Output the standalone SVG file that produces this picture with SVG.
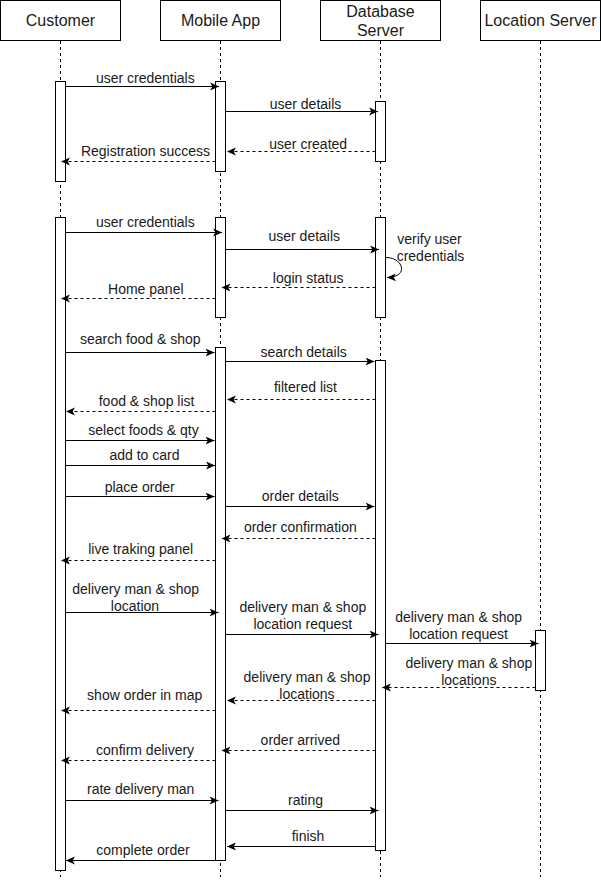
<svg xmlns="http://www.w3.org/2000/svg" width="601" height="881" viewBox="0 0 601 881">
<style>
.box{fill:#fff;stroke:#000;stroke-width:1}
.life{stroke:#000;stroke-width:1;stroke-dasharray:3,3;fill:none}
.act{fill:#fff;stroke:#000;stroke-width:1}
.hdr{font-family:"Liberation Sans",Arial,Helvetica,sans-serif;font-size:16px;fill:#1a1a1a;text-anchor:middle}
.lbl{font-family:"Liberation Sans",Arial,Helvetica,sans-serif;font-size:14px;fill:#1a1a1a;text-anchor:middle}
.msg{stroke:#000;stroke-width:1;fill:none;marker-end:url(#arr)}
.ret{stroke:#000;stroke-width:1;fill:none;stroke-dasharray:3,3;marker-end:url(#arr)}
</style>
<defs>
<marker id="arr" markerUnits="userSpaceOnUse" markerWidth="10" markerHeight="10" viewBox="0 0 9 8" refX="8" refY="4" orient="auto">
<path d="M0,0.5 L8,4 L0,7.5 L2,4 Z" fill="#000"/>
</marker>
</defs>
<rect width="601" height="881" fill="#fff"/>
<g id="customer">
<rect class="box" x="0.5" y="0.5" width="120" height="40"/>
<text class="hdr" x="60.5" y="26">Customer</text>
<line class="life" x1="60.5" y1="41" x2="60.5" y2="877"/>
<rect class="act" x="55.5" y="81.5" width="10" height="100"/>
<rect class="act" x="55.5" y="217.5" width="10" height="653"/>
</g>
<g id="mobile">
<rect class="box" x="160.5" y="0.5" width="120" height="40"/>
<text class="hdr" x="220.5" y="26">Mobile App</text>
<line class="life" x1="220.5" y1="41" x2="220.5" y2="877"/>
<rect class="act" x="215.5" y="81.5" width="10" height="90"/>
<rect class="act" x="215.5" y="217.5" width="10" height="100"/>
<rect class="act" x="215.5" y="347.5" width="10" height="513"/>
</g>
<g id="database">
<rect class="box" x="320.5" y="0.5" width="120" height="40"/>
<text class="hdr" x="380.5" y="17">Database</text>
<text class="hdr" x="380.5" y="36">Server</text>
<line class="life" x1="380.5" y1="41" x2="380.5" y2="877"/>
<rect class="act" x="375.5" y="101.5" width="10" height="60"/>
<rect class="act" x="375.5" y="217.5" width="10" height="100"/>
<rect class="act" x="375.5" y="360.5" width="10" height="490"/>
</g>
<g id="location">
<rect class="box" x="480.5" y="0.5" width="120" height="40"/>
<text class="hdr" x="540.5" y="26">Location Server</text>
<line class="life" x1="540.5" y1="41" x2="540.5" y2="877"/>
<rect class="act" x="535.5" y="630.5" width="10" height="60"/>
</g>
<g id="connectors">
<path class="msg" d="M65.5,86.5 H219"/>
<path class="msg" d="M225.5,111.5 H378"/>
<path class="ret" d="M375.5,151.5 H227"/>
<path class="ret" d="M215.5,161.5 H61"/>
<path class="msg" d="M65.5,232.5 H222"/>
<path class="msg" d="M225.5,249.5 H379"/>
<path class="msg" d="M385.5,257.5 C403,257 410,277 387,277.5"/>
<path class="ret" d="M375.5,287.5 H221.5"/>
<path class="ret" d="M215.5,298.5 H61"/>
<path class="msg" d="M65.5,352.5 H214.5"/>
<path class="msg" d="M225.5,361.5 H374.5"/>
<path class="ret" d="M375.5,399.5 H227"/>
<path class="ret" d="M215.5,411.5 H66"/>
<path class="msg" d="M65.5,440.5 H214.5"/>
<path class="msg" d="M65.5,465.5 H215"/>
<path class="msg" d="M65.5,496.5 H214.5"/>
<path class="msg" d="M225.5,506.5 H374.5"/>
<path class="ret" d="M375.5,538.5 H221.5"/>
<path class="ret" d="M215.5,560.5 H61"/>
<path class="msg" d="M65.5,612.5 H218.5"/>
<path class="msg" d="M225.5,634.5 H378.5"/>
<path class="msg" d="M385.5,643.5 H538.5"/>
<path class="ret" d="M535.5,687.5 H382"/>
<path class="ret" d="M375.5,700.5 H227"/>
<path class="ret" d="M215.5,710.5 H61"/>
<path class="ret" d="M375.5,750.5 H221.5"/>
<path class="ret" d="M215.5,760.5 H61"/>
<path class="msg" d="M65.5,800.5 H218.5"/>
<path class="msg" d="M225.5,810.5 H378.5"/>
<path class="msg" d="M375.5,846.5 H227"/>
<path class="msg" d="M215.5,860.5 H66"/>
</g>
<g id="labels">
<text class="lbl" x="145.3" y="83">user credentials</text>
<text class="lbl" x="305.5" y="109">user details</text>
<text class="lbl" x="308.2" y="149">user created</text>
<text class="lbl" x="145.5" y="156">Registration success</text>
<text class="lbl" x="145.3" y="227">user credentials</text>
<text class="lbl" x="304.3" y="241">user details</text>
<text class="lbl" x="429.5" y="244">verify user</text>
<text class="lbl" x="430.5" y="261">credentials</text>
<text class="lbl" x="308.2" y="283">login status</text>
<text class="lbl" x="145.8" y="294">Home panel</text>
<text class="lbl" x="140.3" y="344">search food &amp; shop</text>
<text class="lbl" x="303.6" y="357">search details</text>
<text class="lbl" x="305.5" y="392">filtered list</text>
<text class="lbl" x="146.6" y="406">food &amp; shop list</text>
<text class="lbl" x="143.5" y="435">select foods &amp; qty</text>
<text class="lbl" x="144.5" y="460">add to card</text>
<text class="lbl" x="139.7" y="492">place order</text>
<text class="lbl" x="300.3" y="501">order details</text>
<text class="lbl" x="300.3" y="532">order confirmation</text>
<text class="lbl" x="140.7" y="554">live traking panel</text>
<text class="lbl" x="135.7" y="594">delivery man &amp; shop</text>
<text class="lbl" x="135" y="611">location</text>
<text class="lbl" x="302.8" y="612">delivery man &amp; shop</text>
<text class="lbl" x="302.8" y="629">location request</text>
<text class="lbl" x="458.6" y="622">delivery man &amp; shop</text>
<text class="lbl" x="458.6" y="639">location request</text>
<text class="lbl" x="468.8" y="668">delivery man &amp; shop</text>
<text class="lbl" x="468.8" y="685">locations</text>
<text class="lbl" x="307" y="682">delivery man &amp; shop</text>
<text class="lbl" x="307" y="699">locations</text>
<text class="lbl" x="144.7" y="700">show order in map</text>
<text class="lbl" x="300.3" y="745">order arrived</text>
<text class="lbl" x="145.1" y="755">confirm delivery</text>
<text class="lbl" x="140.7" y="794">rate delivery man</text>
<text class="lbl" x="305.5" y="805">rating</text>
<text class="lbl" x="308" y="841">finish</text>
<text class="lbl" x="143" y="855">complete order</text>
</g>
</svg>
